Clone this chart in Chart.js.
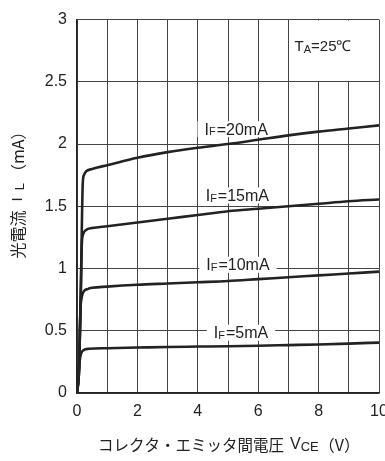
<!DOCTYPE html>
<html>
<head>
<meta charset="utf-8">
<script src="https://cdn.jsdelivr.net/npm/chart.js@4/dist/chart.umd.min.js"></script>
<style>
  html, body { margin: 0; padding: 0; background: #fff; overflow: hidden; }
  #wrap { width: 400px; height: 461px; }
</style>
</head>
<body>
<div id="wrap"><canvas id="canvas" width="400" height="461"></canvas></div>
<script>
// IL vs VCE curves, one pair of arrays per forward current
var vce20 = [0, 0.07, 0.13, 0.19, 0.23, 0.3, 0.5, 1, 2, 3, 4, 5, 6, 7, 8, 9, 10];
var il20  = [0, 0.2, 0.87, 1.68, 1.75, 1.78, 1.80, 1.83, 1.89, 1.935, 1.97, 2.0, 2.035, 2.07, 2.10, 2.125, 2.15];
var vce15 = [0, 0.07, 0.13, 0.16, 0.21, 0.3, 0.5, 1, 2, 3, 4, 5, 6, 7, 8, 9, 10];
var il15  = [0, 0.2, 0.87, 1.2, 1.28, 1.31, 1.325, 1.34, 1.37, 1.40, 1.43, 1.46, 1.48, 1.50, 1.52, 1.54, 1.555];
var vce10 = [0, 0.07, 0.11, 0.15, 0.22, 0.35, 0.5, 1, 2, 3, 4, 5, 6, 7, 8, 9, 10];
var il10  = [0, 0.2, 0.65, 0.76, 0.815, 0.835, 0.845, 0.855, 0.87, 0.88, 0.89, 0.9, 0.915, 0.93, 0.945, 0.96, 0.975];
var vce5  = [0, 0.05, 0.09, 0.14, 0.22, 0.4, 1, 2, 3, 4, 5, 6, 7, 8, 9, 10];
var il5   = [0, 0.15, 0.26, 0.32, 0.345, 0.355, 0.36, 0.365, 0.37, 0.373, 0.376, 0.38, 0.385, 0.39, 0.397, 0.405];

var xTicks = [0, 2, 4, 6, 8, 10];
var yTicks = [0, 0.5, 1, 1.5, 2, 2.5, 3];

// curve labels: [name, subscript, rest, V, IL]
var curveLabels = [
  ["I", "F", "=20mA", 5.27, 2.12],
  ["I", "F", "=15mA", 5.31, 1.587],
  ["I", "F", "=10mA", 5.33, 1.03],
  ["I", "F", "=5mA", 5.43, 0.484]
];

var ink = "#222";
var latin = "'Liberation Sans', Arial, sans-serif";
var cjk = "'Noto Sans CJK JP', sans-serif";

function pts(xs, ys) {
  var out = [];
  for (var i = 0; i < xs.length; i++) out.push({x: xs[i], y: ys[i]});
  return out;
}

function curve(xs, ys) {
  return {
    data: pts(xs, ys),
    borderColor: ink,
    borderWidth: 2.6,
    pointRadius: 0,
    fill: false,
    cubicInterpolationMode: "monotone"
  };
}

// a run is a list of [text, font, dy]; a number entry is a plain gap in px
function runWidth(ctx, parts) {
  var w = 0;
  parts.forEach(function (p) {
    if (typeof p === "number") { w += p; return; }
    ctx.font = p[1]; w += ctx.measureText(p[0]).width;
  });
  return w;
}
function drawRun(ctx, parts, x, y) {
  parts.forEach(function (p) {
    if (typeof p === "number") { x += p; return; }
    ctx.font = p[1];
    ctx.fillText(p[0], x, y + (p[2] || 0));
    x += ctx.measureText(p[0]).width;
  });
}

var annot = {
  id: "annot",
  beforeDatasetsDraw: function (chart) {
    var ctx = chart.ctx, x = chart.scales.x, y = chart.scales.y;
    ctx.save();
    // blank box behind the temperature note
    var l = x.getPixelForValue(7) + 1, r = x.getPixelForValue(10) - 1;
    var t = y.getPixelForValue(3) + 1, b = y.getPixelForValue(2.5) - 1;
    ctx.fillStyle = "#fff";
    ctx.fillRect(l, t, r - l, b - t);
    ctx.fillStyle = ink;
    ctx.textBaseline = "middle";
    var note = [["T", "15px " + latin, 0], ["A", "11px " + latin, 3], ["=25℃", "15px " + latin, 0]];
    var nw = runWidth(ctx, note);
    drawRun(ctx, note, 323 - nw / 2, 47);

    curveLabels.forEach(function (c) {
      var parts = [[c[0], "16px " + latin, 0], [c[1], "11px " + latin, 2], 1, [c[2], "16px " + latin, 0]];
      var w = runWidth(ctx, parts);
      var cx = x.getPixelForValue(c[3]), cy = y.getPixelForValue(c[4]);
      ctx.fillStyle = "#fff";
      ctx.fillRect(cx - w / 2 - 7, cy - 8, w + 14, 16);
      ctx.fillStyle = ink;
      drawRun(ctx, parts, cx - w / 2, cy + 1);
    });
    ctx.restore();
  },
  afterDraw: function (chart) {
    var ctx = chart.ctx;
    ctx.save();
    ctx.fillStyle = ink;
    ctx.textBaseline = "middle";
    // x axis title
    var xt = [["コレクタ・エミッタ間電圧", "15.5px " + cjk, 0], 6, ["V", "16px " + latin, 0],
              ["CE", "13px " + latin, 2], ["（V）", "16px " + cjk, 0]];
    var w = runWidth(ctx, xt);
    drawRun(ctx, xt, 229 - w / 2, 445);
    // y axis title, rotated
    ctx.translate(18, 191);
    ctx.rotate(-Math.PI / 2);
    var yt = [["光電流", "16px " + cjk, 0], 9, ["I", "15px " + latin, 0], 7,
              ["L", "13px " + latin, 2], 3, ["（mA）", "16px " + cjk, 0]];
    w = runWidth(ctx, yt);
    drawRun(ctx, yt, -w / 2, 0);
    ctx.restore();
  }
};

var chart = new Chart(document.getElementById("canvas"), {
  type: "line",
  data: {
    datasets: [curve(vce20, il20), curve(vce15, il15), curve(vce10, il10), curve(vce5, il5)]
  },
  options: {
    responsive: false,
    animation: false,
    layout: { padding: { top: 15, right: 21, left: 0, bottom: 0 } },
    plugins: { legend: { display: false }, tooltip: { enabled: false } },
    scales: {
      x: {
        type: "linear",
        min: 0, max: 10,
        afterFit: function (s) { s.height = 68; },
        ticks: {
          stepSize: 1,
          autoSkip: false,
          maxRotation: 0,
          padding: 9,
          color: ink,
          font: { size: 16, family: latin },
          callback: function (v) { return xTicks.indexOf(v) >= 0 ? String(v) : ""; }
        },
        grid: { color: "#444", lineWidth: 1, drawTicks: false },
        border: { color: "#222", width: 1.5 }
      },
      y: {
        min: 0, max: 3,
        afterFit: function (s) { s.width = 77; },
        ticks: {
          stepSize: 0.5,
          padding: 10,
          color: ink,
          font: { size: 16, family: latin },
          callback: function (v) { return yTicks.indexOf(v) >= 0 ? String(v) : ""; }
        },
        grid: { color: "#444", lineWidth: 1, drawTicks: false },
        border: { color: "#222", width: 1.5 }
      }
    }
  },
  plugins: [annot]
});
</script>
</body>
</html>
